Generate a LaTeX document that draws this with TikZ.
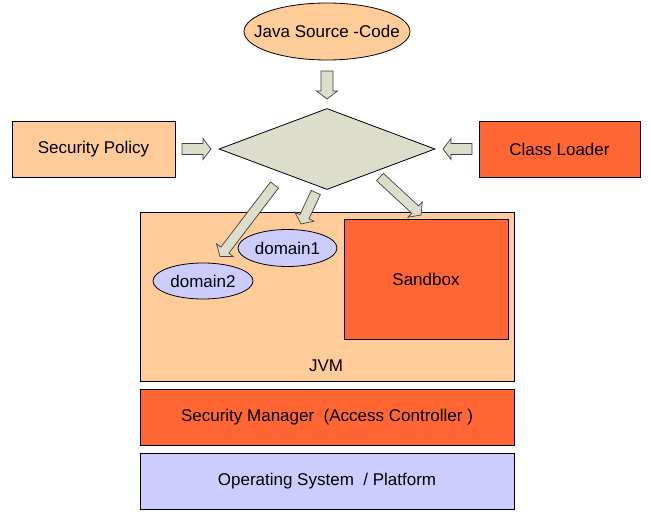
\documentclass[tikz,border=0pt]{standalone}
\usepackage{fontspec}
\setmainfont{Liberation Sans}
\usetikzlibrary{calc,shapes.geometric}
\definecolor{lorange}{HTML}{FFCC99}
\definecolor{dorange}{HTML}{FF6633}
\definecolor{lblue}{HTML}{CCCCFF}
\definecolor{khaki}{HTML}{DDDDCC}
\tikzset{
  every node/.style={font=\fontsize{17}{20}\selectfont},
  box/.style={draw=black, line width=0.8pt, inner sep=0pt},
  oval/.style={ellipse, draw=black, line width=0.8pt, inner sep=0pt},
  blk/.style={fill=khaki, draw=black!75, line width=0.7pt, line join=miter},
}
\newcommand\blkarrow[3]{% tail, tip, shaft half width
  \draw[blk] let \p1=($(#2)-(#1)$), \n1={atan2(\y1,\x1)} in
    ($(#1)+(\n1+90:#3pt)$) --
    ($(#2)+(\n1+180:8pt)+(\n1+90:#3pt)$) --
    ($(#2)+(\n1+180:8pt)+(\n1+90:10.5pt)$) --
    (#2) --
    ($(#2)+(\n1+180:8pt)+(\n1-90:10.5pt)$) --
    ($(#2)+(\n1+180:8pt)+(\n1-90:#3pt)$) --
    ($(#1)+(\n1-90:#3pt)$) -- cycle;
}
\begin{document}
\begin{tikzpicture}[x=1pt,y=-1pt]
\useasboundingbox (0,0) rectangle (651,516);
% top ellipse
\node[oval, fill=lorange, minimum width=166pt, minimum height=57pt] (java) at (327,31.5) {};
\node (javalabel) at (java.center) {Java Source -Code};
% diamond
\node[diamond, draw=black, line width=0.8pt, fill=khaki, minimum width=216pt, minimum height=81pt, inner sep=0pt] (dec) at (327,149) {};
% side boxes
\node[box, fill=lorange, minimum width=163pt, minimum height=56pt] (policy) at (93.5,149) {Security Policy};
\node[box, fill=dorange, minimum width=161pt, minimum height=56pt] (loader) at (559.5,149) {Class Loader};
% JVM
\node[box, fill=lorange, minimum width=374pt, minimum height=169pt] (jvm) at (327,297) {};
\node (jvmlabel) at (326,366) {JVM};
\node[box, fill=dorange, minimum width=164pt, minimum height=120pt] (sandbox) at (426,279) {Sandbox};
\node[oval, fill=lblue, minimum width=99pt, minimum height=37pt] (d1) at (287.5,248) {};
\node (d1label) at (d1.center) {domain1};
\node[oval, fill=lblue, minimum width=100pt, minimum height=36pt] (d2) at (203,281) {};
\node (d2label) at (d2.center) {domain2};
% bottom layers
\node[box, fill=dorange, minimum width=374pt, minimum height=56pt] (secman) at (327,417) {Security Manager \ (Access Controller )};
\node[box, fill=lblue, minimum width=374pt, minimum height=56pt] (os) at (327,481) {Operating System \ / Platform};
% arrow coordinates
\coordinate (a1t) at (327,71);   \coordinate (a1h) at (327,99);
\coordinate (a2t) at (182,149);  \coordinate (a2h) at (211,149);
\coordinate (a3t) at (472,149);  \coordinate (a3h) at (443,149);
\coordinate (a4t) at (274.5,185);\coordinate (a4h) at (220,256.5);
\coordinate (a5t) at (315.8,192.5);\coordinate (a5h) at (301,224);
\coordinate (a6t) at (380,177);  \coordinate (a6h) at (421,215);
\blkarrow{a1t}{a1h}{6}
\blkarrow{a2t}{a2h}{5.5}
\blkarrow{a3t}{a3h}{5.5}
\blkarrow{a4t}{a4h}{5}
\blkarrow{a5t}{a5h}{5}
\blkarrow{a6t}{a6h}{5}
\end{tikzpicture}
\end{document}
